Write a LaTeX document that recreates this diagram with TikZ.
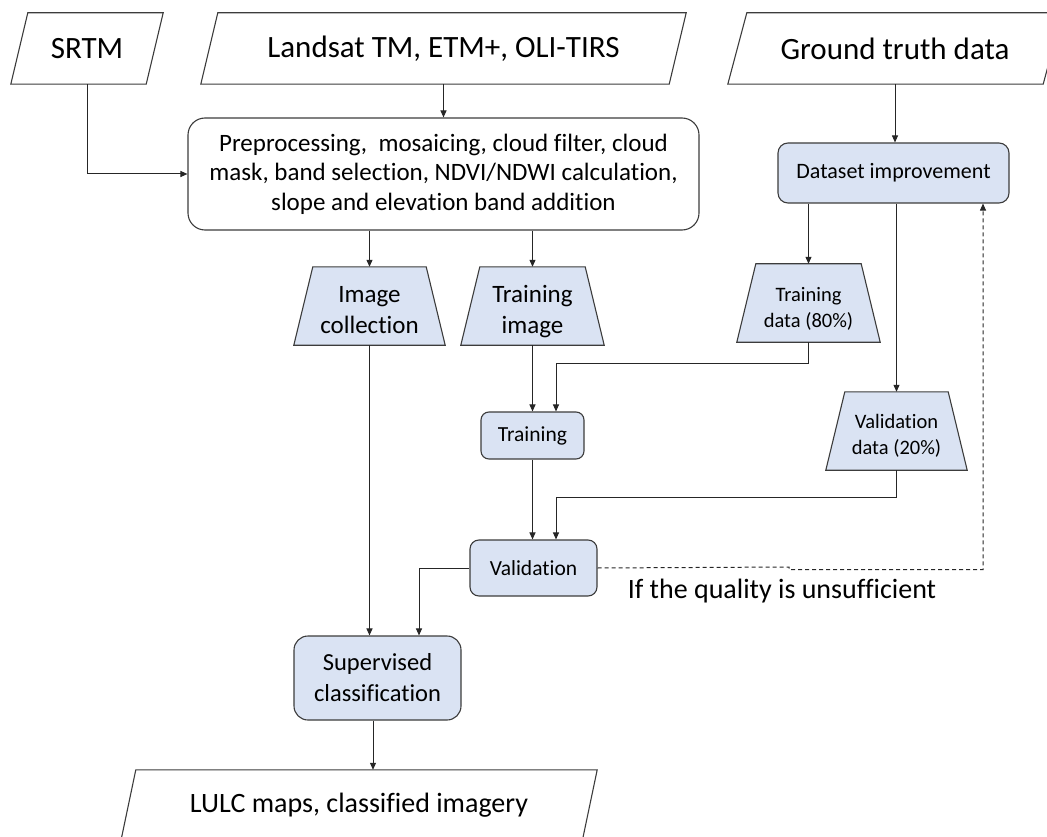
\documentclass[tikz,border=0pt]{standalone}
\usepackage{fontspec}
\setmainfont{Carlito}[Ligatures=NoCommon]
\usetikzlibrary{arrows.meta,backgrounds,calc}
\definecolor{boxblue}{RGB}{218,227,243}
\definecolor{edgegray}{RGB}{60,60,60}
\newcommand{\parashape}[2]{%
  \draw[outl] (#1.south west) -- ([xshift=-#2]#1.south east) -- (#1.north east) -- ([xshift=#2]#1.north west) -- cycle;}
\newcommand{\trapshape}[2]{%
  \filldraw[outl, fill=boxblue] (#1.south west) -- (#1.south east) -- ([xshift=-#2]#1.north east) -- ([xshift=#2]#1.north west) -- cycle;}
\newcommand{\tl}[1]{\rule{0pt}{#1pt}}
\newcommand{\bl}[1]{\rule[-#1pt]{0pt}{#1pt}}
\begin{document}
\begin{tikzpicture}[x=1pt,y=-1pt,
  outl/.style={draw=edgegray, line width=1.1pt},
  pbox/.style={inner sep=0, minimum height=71, font=\fontsize{31}{37}\selectfont},
  tbox/.style={inner sep=0, minimum height=78, align=center},
  rbox/.style={draw=edgegray, line width=1.1pt, fill=boxblue, inner sep=0, align=center},
  conn/.style={draw=black!85, line width=1pt, -{Triangle[length=7pt,width=6pt]}},
  dashconn/.style={conn, dash pattern=on 4pt off 3pt}
]
\useasboundingbox (0,0) rectangle (1047,837);
\clip (0,0) rectangle (1047,837);

% input parallelograms
\node[pbox, minimum width=152] (srtm) at (87,48.5) {SRTM};
\node[pbox, minimum width=485] (landsat) at (443.5,48.5) {Landsat TM, ETM+, OLI-TIRS};
\node[pbox, minimum width=334] (gt) at (895,48.5) {Ground truth data};

% preprocessing
\node[draw=edgegray, line width=1.1pt, fill=white, rounded corners=17, inner sep=0,
      minimum width=511, minimum height=112, align=center,
      font=\fontsize{25}{29.5}\selectfont] (pre) at (443.5,174)
  {Preprocessing, \ mosaicing, cloud filter, cloud\\ mask, band selection, NDVI/NDWI calculation,\\ slope and elevation band addition};

% dataset improvement
\node[rbox, rounded corners=10, minimum width=231, minimum height=60,
      font=\fontsize{22}{26}\selectfont] (di) at (893.5,173) {Dataset improvement};

% trapezoids
\node[tbox, minimum width=151, font=\fontsize{25}{31}\selectfont] (imgcol) at (369.5,306) {\tl{29}Image\\collection\bl{6}};
\node[tbox, minimum width=143, font=\fontsize{25}{31}\selectfont] (trimg) at (532.5,306) {\tl{29}Training\\image\bl{6}};
\node[tbox, minimum width=143, font=\fontsize{20.5}{25.5}\selectfont] (trdata) at (808.5,303) {\tl{27.7}Training\\data (80\%)\bl{5}};
\node[tbox, minimum width=141, font=\fontsize{20.5}{25.5}\selectfont] (valdata) at (896.5,431) {\tl{25.7}Validation\\data (20\%)\bl{5}};

% rounded process boxes
\node[rbox, rounded corners=8, minimum width=103, minimum height=47,
      font=\fontsize{21.5}{26}\selectfont] (train) at (532.5,435.5) {Training};
\node[rbox, rounded corners=9, minimum width=127, minimum height=56,
      font=\fontsize{21.5}{26}\selectfont] (val) at (533.5,568) {Validation};
\node[rbox, rounded corners=14, minimum width=167, minimum height=84,
      font=\fontsize{24.5}{31}\selectfont] (sup) at (377.5,678) {\tl{22.6}Supervised\\classification\bl{6}};

% output
\node[pbox, minimum width=476, font=\fontsize{28}{34}\selectfont] (lulc) at (359,805.5) {LULC maps, classified imagery};

% note
\node[inner sep=0, font=\fontsize{28}{34}\selectfont] (note) at (782,591) {If the quality is unsufficient};

\begin{scope}[on background layer]
  \parashape{srtm}{17}
  \parashape{landsat}{17}
  \parashape{gt}{19}
  \parashape{lulc}{15}
  \trapshape{imgcol}{19}
  \trapshape{trimg}{19}
  \trapshape{trdata}{19}
  \trapshape{valdata}{19}
\end{scope}

% connectors
\draw[conn] (srtm.south) |- (pre.west);
\draw[conn] (landsat.south) -- (pre.north);
\draw[conn] (gt.south) -- (gt.south |- di.north);
\draw[conn] (pre.south -| imgcol.north) -- (imgcol.north);
\draw[conn] (pre.south -| trimg.north) -- (trimg.north);
\draw[conn] (di.south -| trdata.north) -- (trdata.north);
\draw[conn] (di.south -| valdata.north) -- (valdata.north);
\draw[conn] (trimg.south) -- (trimg.south |- train.north);
\draw[conn] (trdata.south) -- ++(0,21) -| ([xshift=23.5]train.north);
\draw[conn] (train.south) -- (train.south |- val.north);
\draw[conn] (valdata.south) -- ++(0,27) -| ([xshift=22.5]val.north);
\draw[conn] (val.west) -| ([xshift=41.5]sup.north);
\draw[conn] (imgcol.south) -- (imgcol.south |- sup.north);
\draw[conn] ([xshift=-4.5]sup.south) -- ([xshift=-4.5]sup.south |- lulc.north);
\coordinate (dstep) at (789,567);
\coordinate (dcorner) at (983,569.5);
\draw[dashconn] (val.east) -- (dstep) -- (dstep |- dcorner) -- (dcorner) -- (dcorner |- di.south);

\end{tikzpicture}
\end{document}
